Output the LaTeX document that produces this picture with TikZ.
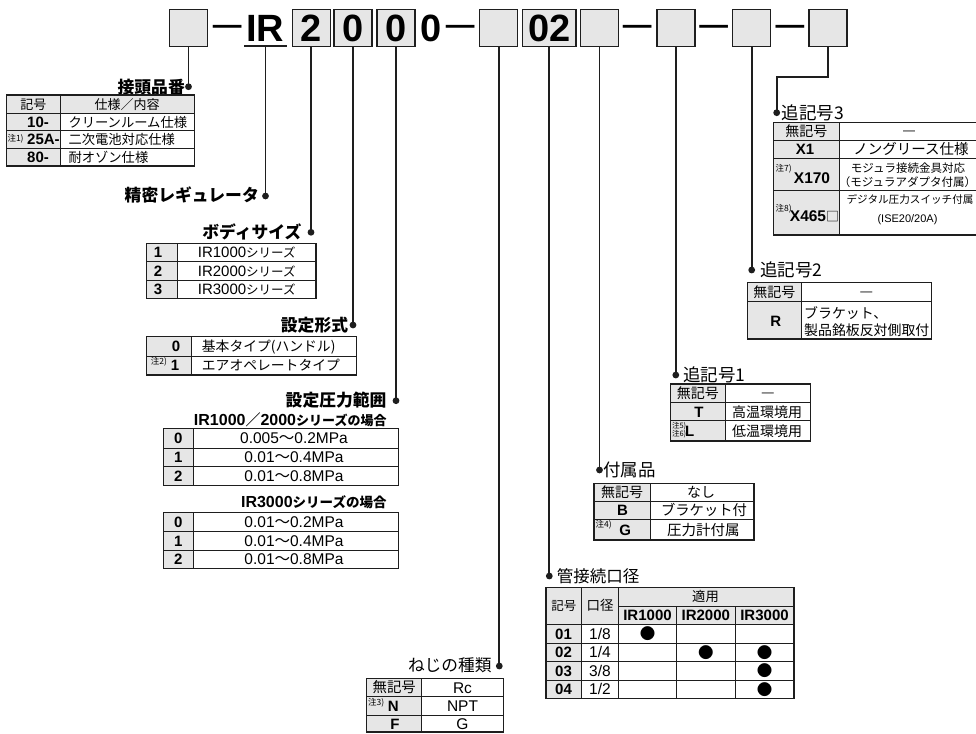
\documentclass[tikz,border=0pt]{standalone}
\usepackage{fontspec}
\setmainfont{Liberation Sans}
\newfontfamily\jp{Noto Sans CJK JP}
\newcommand\fs[1]{\fontsize{#1}{#1}\selectfont}
\definecolor{cgray}{RGB}{230,230,230}
\definecolor{cline}{RGB}{30,30,30}
\tikzset{
  pbox/.style={draw=cline, line width=1.5pt, fill=cgray, minimum width=38pt, minimum height=37.4pt, inner sep=0pt, font=\fs{38}\bfseries},
  tx/.style={inner sep=0pt, anchor=base},
  txw/.style={inner sep=0pt, anchor=base west},
  txe/.style={inner sep=0pt, anchor=base east},
  con/.style={draw=cline, line width=1.7pt},
  dotn/.style={circle, fill=cline, inner sep=0pt, minimum size=6.8pt},
  outer/.style={draw=cline, line width=1.3pt},
  inner/.style={draw=cline, line width=0.9pt},
  gfill/.style={fill=cgray},
  hd/.style={inner sep=0pt, anchor=base, font=\fs{28.7}\bfseries},
  bt/.style={font=\jp\bfseries\fs{16.8}},
  rt/.style={font=\jp\fs{17.5}},
  code/.style={font=\bfseries\fs{15}},
  note/.style={font=\jp\fs{8.5}},
  bul/.style={inner sep=0pt, font=\jp\fs{15.5}},
}
\begin{document}
\begin{tikzpicture}[x=1pt,y=-1pt]
\useasboundingbox (0,0) rectangle (976,733);
\clip (0,0) rectangle (976,733);

% ---------- header ----------
\node[pbox] (b1) at (188.3,28) {};
\node[hd] (m1) at (227.3,34.4) {—};
\node[tx, font=\fs{38}\bfseries] (ir) at (265,41.7) {IR};
\draw[con] (244,46) coordinate (ul1) -- (286.7,46) coordinate (ul2);
\coordinate (irc) at (265.5,46);
\node[pbox] (b2) at (311.3,28) {2};
\node[pbox] (b3) at (353.2,28) {0};
\node[pbox] (b4) at (396.2,28) {0};
\node[tx, font=\fs{38}\bfseries] (z4) at (430.8,41.7) {0};
\node[hd] (m2) at (460.3,34.4) {—};
\node[pbox] (b5) at (498.3,28) {};
\node[pbox, minimum width=53.3pt] (b6) at (549.3,28) {02};
\node[pbox] (b7) at (599.5,28) {};
\node[hd] (m3) at (637.3,34.4) {—};
\node[pbox] (b8) at (675.8,28) {};
\node[hd] (m4) at (713.7,34.4) {—};
\node[pbox] (b9) at (751.7,28) {};
\node[hd] (m5) at (790,34.4) {—};
\node[pbox] (b10) at (828.2,28) {};

% ---------- dots ----------
\node[dotn] (d1) at (188.5,86.7) {};
\node[dotn] (d2) at (265.5,196) {};
\node[dotn] (d3) at (311,232.3) {};
\node[dotn] (d4) at (353,325) {};
\node[dotn] (d5) at (396,400.7) {};
\node[dotn] (d6) at (499.3,666) {};
\node[dotn] (d7) at (549.3,576) {};
\node[dotn] (d8) at (599.5,470) {};
\node[dotn] (d9) at (675.8,375) {};
\node[dotn] (d10) at (751.7,270) {};
\node[dotn] (d11) at (776.7,112.7) {};

% ---------- connectors ----------
\draw[con] (d1 |- b1.south) -- (d1.center);
\draw[con] (irc) -- (d2.center);
\draw[con] (d3 |- b2.south) -- (d3.center);
\draw[con] (d4 |- b3.south) -- (d4.center);
\draw[con] (d5 |- b4.south) -- (d5.center);
\draw[con] (d6 |- b5.south) -- (d6.center);
\draw[con] (d7 |- b6.south) -- (d7.center);
\draw[con] (d8 |- b7.south) -- (d8.center);
\draw[con] (d9 |- b8.south) -- (d9.center);
\draw[con] (d10 |- b9.south) -- (d10.center);
\draw[con] (b10.south) -- ++(0,29.3) -| (d11.center);

% ---------- titles ----------
\node[txe, bt] (t1) at (185,93.2) {接頭品番};
\node[txe, bt] (t2) at (259,201.9) {精密レギュレータ};
\node[txe, bt] (t3) at (301.7,238.1) {ボディサイズ};
\node[txe, bt] (t4) at (348.3,331.4) {設定形式};
\node[txe, bt] (t5) at (386.7,406.4) {設定圧力範囲};
\node[txe, font=\bfseries\fs{16}] (t6) at (386.7,425.7) {IR1000{\jp\fs{15}／}2000{\jp\fs{13}シリーズの場合}};
\node[txe, font=\bfseries\fs{16}] (t7) at (386.7,507.5) {IR3000{\jp\fs{13.5}シリーズの場合}};
\node[txw, rt] (t8) at (781.7,119.3) {追記号3};
\node[txw, rt] (t9) at (760,276.6) {追記号2};
\node[txw, rt] (t10) at (683,381.6) {追記号1};
\node[txw, rt] (t11) at (603,476.6) {付属品};
\node[txw, font=\jp\fs{16.5}] (t12) at (556.7,582.3) {管接続口径};
\node[txe, font=\jp\fs{16.7}] (t13) at (491.7,671.3) {ねじの種類};

% ---------- table A ----------
\fill[gfill] (6.7,95) rectangle (194.3,113.3);
\fill[gfill] (6.7,113.3) rectangle (60,166);
\draw[inner] (60,95) -- (60,166) (6.7,113.3) -- (194.3,113.3) (6.7,130.7) -- (194.3,130.7) (6.7,148.3) -- (194.3,148.3);
\draw[outer] (6.7,95) rectangle (194.3,166);
\node[tx, font=\jp\fs{13}] (a1) at (33.3,109.4) {記号};
\node[tx, font=\jp\fs{13}] (a2) at (127.2,109.4) {仕様／内容};
\node[txw, code] (a3) at (27,127.2) {10-};
\node[txw, note] (a4) at (7.3,141.5) {注1)};
\node[txw, code] (a5) at (27,144.7) {25A-};
\node[txw, code] (a6) at (27,162.4) {80-};
\node[txw, font=\jp\fs{13.3}] (a7) at (68.3,127.2) {クリーンルーム仕様};
\node[txw, font=\jp\fs{13.3}] (a8) at (68.3,144.7) {二次電池対応仕様};
\node[txw, font=\jp\fs{13.3}] (a9) at (68.3,162.4) {耐オゾン仕様};

% ---------- table B ----------
\fill[gfill] (146.7,243.3) rectangle (177.3,298.3);
\draw[inner] (177.3,243.3) -- (177.3,298.3) (146.7,261.7) -- (316,261.7) (146.7,280) -- (316,280);
\draw[outer] (146.7,243.3) rectangle (316,298.3);
\node[tx, code] (bc1) at (158,257.9) {1};
\node[tx, code] (bc2) at (158,276.2) {2};
\node[tx, code] (bc3) at (158,294.6) {3};
\node[tx, font=\fs{15}] (bd1) at (246.7,257.9) {IR1000{\jp\fs{12.5}シリーズ}};
\node[tx, font=\fs{15}] (bd2) at (246.7,276.2) {IR2000{\jp\fs{12.5}シリーズ}};
\node[tx, font=\fs{15}] (bd3) at (246.7,294.6) {IR3000{\jp\fs{12.5}シリーズ}};

% ---------- table C ----------
\fill[gfill] (146.7,336.7) rectangle (191.7,375);
\draw[inner] (191.7,336.7) -- (191.7,375) (146.7,356) -- (356.7,356);
\draw[outer] (146.7,336.7) rectangle (356.7,375);
\node[tx, code] (cc1) at (176,351.7) {0};
\node[txw, note] (cn1) at (150.7,364.5) {注2)};
\node[tx, code] (cc2) at (175,370.9) {1};
\node[txw, font=\jp\fs{13.8}] (cd1) at (201.7,351.5) {基本タイプ(ハンドル)};
\node[txw, font=\jp\fs{13.8}] (cd2) at (201.7,370.7) {エアオペレートタイプ};

% ---------- table D1 ----------
\fill[gfill] (163.3,428.3) rectangle (193.3,485.7);
\draw[inner] (193.3,428.3) -- (193.3,485.7) (163.3,448.3) -- (398.3,448.3) (163.3,466.7) -- (398.3,466.7);
\draw[outer] (163.3,428.3) rectangle (398.3,485.7);
\node[tx, code] (dc1) at (178.3,443.7) {0};
\node[tx, code] (dc2) at (178.3,462.9) {1};
\node[tx, code] (dc3) at (178.3,481.6) {2};
\node[tx, font=\fs{15.5}] (dv1) at (294,443.7) {0.005{\jp ～}0.2MPa};
\node[tx, font=\fs{15.5}] (dv2) at (294,462.9) {0.01{\jp ～}0.4MPa};
\node[tx, font=\fs{15.5}] (dv3) at (294,481.6) {0.01{\jp ～}0.8MPa};

% ---------- table D2 ----------
\fill[gfill] (163.3,512.7) rectangle (193.3,568.3);
\draw[inner] (193.3,512.7) -- (193.3,568.3) (163.3,531.7) -- (398.3,531.7) (163.3,550) -- (398.3,550);
\draw[outer] (163.3,512.7) rectangle (398.3,568.3);
\node[tx, code] (ec1) at (178.3,527.6) {0};
\node[tx, code] (ec2) at (178.3,546.2) {1};
\node[tx, code] (ec3) at (178.3,564.6) {2};
\node[tx, font=\fs{15.5}] (ev1) at (294,527.6) {0.01{\jp ～}0.2MPa};
\node[tx, font=\fs{15.5}] (ev2) at (294,546.2) {0.01{\jp ～}0.4MPa};
\node[tx, font=\fs{15.5}] (ev3) at (294,564.6) {0.01{\jp ～}0.8MPa};

% ---------- table E (追記号3) ----------
\fill[gfill] (773.3,122.7) rectangle (839.3,235);
\draw[inner] (839.3,122.7) -- (839.3,235) (773.3,140) -- (990,140) (773.3,158.3) -- (990,158.3) (773.3,190) -- (990,190);
\draw[outer] (773.3,122.7) rectangle (990,235);
\node[tx, font=\jp\fs{14}] (x1) at (806.3,136.6) {無記号};
\node[tx, font=\fs{12}] (x2) at (909,134.8) {—};
\node[tx, code] (x3) at (805,154.6) {X1};
\node[tx, font=\jp\fs{14.5}] (x4) at (911,154.8) {ノングリース仕様};
\node[txw, note] (x5) at (775.5,171.5) {注7)};
\node[tx, font=\bfseries\fs{15.5}] (x6) at (812,183) {X170};
\node[tx, font=\jp\fs{11.5}] (x7) at (908,172.4) {モジュラ接続金具対応};
\node[tx, font=\jp\fs{11.5}] (x8) at (907.5,186.4) {（モジュラアダプタ付属）};
\node[txw, note] (x9) at (775.5,211.5) {注8)};
\node[tx, font=\bfseries\fs{15.5}] (x10) at (814.5,221.7) {X465{\jp\mdseries\fs{13}□}};
\node[tx, font=\jp\fs{10.6}] (x11) at (910,203) {デジタル圧力スイッチ付属};
\node[tx, font=\fs{11}] (x12) at (907.5,222) {(ISE20/20A)};

% ---------- table F (追記号2) ----------
\fill[gfill] (747.7,282.7) rectangle (801,339);
\draw[inner] (801,282.7) -- (801,339) (747.7,301) -- (931.7,301);
\draw[outer] (747.7,282.7) rectangle (931.7,339);
\node[tx, font=\jp\fs{14}] (f1) at (774.3,297.1) {無記号};
\node[tx, font=\fs{12}] (f2) at (866.3,295.1) {—};
\node[tx, code] (f3) at (775.8,326.2) {R};
\node[txw, font=\jp\fs{13.9}] (f4) at (804,318.6) {ブラケット、};
\node[txw, font=\jp\fs{13.9}] (f5) at (804,335.3) {製品銘板反対側取付};

% ---------- table G (追記号1) ----------
\fill[gfill] (670.7,384) rectangle (725,441);
\draw[inner] (725,384) -- (725,441) (670.7,402.7) -- (810.7,402.7) (670.7,420.7) -- (810.7,420.7);
\draw[outer] (670.7,384) rectangle (810.7,441);
\node[tx, font=\jp\fs{14}] (g1) at (697.8,398.6) {無記号};
\node[tx, font=\fs{12}] (g2) at (767.8,396.6) {—};
\node[tx, code] (g3) at (699,417.1) {T};
\node[tx, font=\jp\fs{14}] (g4) at (767,417) {高温環境用};
\node[txw, font=\jp\fs{7.5}] (g5) at (671.8,428.5) {注5)};
\node[txw, font=\jp\fs{7.5}] (g6) at (671.8,436.8) {注6)};
\node[txw, code] (g7) at (685,436.2) {L};
\node[tx, font=\jp\fs{14}] (g8) at (767,436.1) {低温環境用};

% ---------- table H (付属品) ----------
\fill[gfill] (594,483.3) rectangle (650,540);
\draw[inner] (650,483.3) -- (650,540) (594,501.7) -- (754,501.7) (594,519.3) -- (754,519.3);
\draw[outer] (594,483.3) rectangle (754,540);
\node[tx, font=\jp\fs{14}] (h1) at (622,497.8) {無記号};
\node[tx, font=\jp\fs{14}] (h2) at (701,497.8) {なし};
\node[tx, code] (h3) at (622.5,515.9) {B};
\node[tx, font=\jp\fs{14.3}] (h4) at (704,515.8) {ブラケット付};
\node[txw, note] (h5) at (595.5,527.5) {注4)};
\node[tx, code] (h6) at (625.3,535.1) {G};
\node[tx, font=\jp\fs{14.5}] (h7) at (703.3,535) {圧力計付属};

% ---------- table I (管接続口径) ----------
\fill[gfill] (546,587.3) rectangle (794,624.3);
\fill[gfill] (546,624.3) rectangle (581.7,698.3);
\draw[inner] (581.7,587.3) -- (581.7,698.3) (618.3,587.3) -- (618.3,698.3)
  (676.7,606) -- (676.7,698.3) (735,606) -- (735,698.3)
  (618.3,606) -- (794,606)
  (546,624.3) -- (794,624.3) (546,643.3) -- (794,643.3) (546,661.7) -- (794,661.7) (546,680) -- (794,680);
\draw[outer] (546,587.3) rectangle (794,698.3);
\node[tx, font=\jp\fs{12.5}] (i1) at (563.8,610.6) {記号};
\node[tx, font=\jp\fs{13.5}] (i2) at (600,610.9) {口径};
\node[tx, font=\jp\fs{13.3}] (i3) at (705.5,601.6) {適用};
\node[tx, code] (i4) at (647.5,620.5) {IR1000};
\node[tx, code] (i5) at (705.8,620.5) {IR2000};
\node[tx, code] (i6) at (764.5,620.5) {IR3000};
\node[tx, code] (i7) at (563.5,639.2) {01};
\node[tx, code] (i8) at (563.5,657.9) {02};
\node[tx, code] (i9) at (563.5,676.2) {03};
\node[tx, code] (i10) at (563.5,694.6) {04};
\node[tx, font=\fs{15.5}] (i11) at (600,639.2) {1/8};
\node[tx, font=\fs{15.5}] (i12) at (600,657.9) {1/4};
\node[tx, font=\fs{15.5}] (i13) at (600,676.2) {3/8};
\node[tx, font=\fs{15.5}] (i14) at (600,694.6) {1/2};
\node[bul] (p1) at (647.5,633.8) {●};
\node[bul] (p2) at (705.8,652.5) {●};
\node[bul] (p3) at (764.5,652.5) {●};
\node[bul] (p4) at (764.5,670.8) {●};
\node[bul] (p5) at (764.5,689.2) {●};

% ---------- table J (ねじの種類) ----------
\fill[gfill] (366.7,678.3) rectangle (421.7,732);
\draw[inner] (421.7,678.3) -- (421.7,732) (366.7,696.7) -- (503.3,696.7) (366.7,715) -- (503.3,715);
\draw[outer] (366.7,678.3) rectangle (503.3,732);
\node[tx, font=\jp\fs{14.4}] (j1) at (394.2,692.9) {無記号};
\node[tx, font=\fs{15.5}] (j2) at (462.5,693) {Rc};
\node[txw, note] (j3) at (368,705.5) {注3)};
\node[tx, code] (j4) at (393.3,711.2) {N};
\node[tx, font=\fs{15.5}] (j5) at (462.5,711.2) {NPT};
\node[tx, code] (j6) at (395,729.6) {F};
\node[tx, font=\fs{15.5}] (j7) at (462.5,729.6) {G};
\end{tikzpicture}
\end{document}
